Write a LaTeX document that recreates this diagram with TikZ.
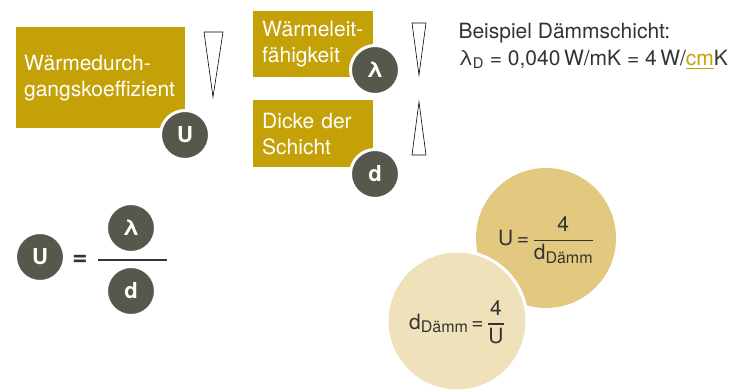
\documentclass[tikz,border=0pt]{standalone}
\usepackage{amsmath}
\usepackage{fontspec}
\setmainfont{TeX Gyre Heros}
\usepackage{tikz}
\usetikzlibrary{positioning}

\definecolor{gold}{HTML}{C4A106}
\definecolor{badgegray}{HTML}{58574B}
\definecolor{warmgold}{HTML}{E2C97F}
\definecolor{palegold}{HTML}{EFE1BA}
\definecolor{textgray}{HTML}{333333}

\newcommand{\barfrac}[2]{\genfrac{}{}{1.1pt}{0}{\text{#1}}{\text{#2}}}
\newcommand{\subdamm}{\raisebox{-0.3ex}{\fontsize{16}{16}\selectfont D\"amm}}

\begin{document}
\begin{tikzpicture}[x=1pt, y=-1pt,
  box/.style={fill=gold, text=white, anchor=north west, inner xsep=8pt,
    align=left, font=\fontsize{21}{26}\selectfont},
  badge/.style={circle, fill=badgegray, draw=white, line width=3pt,
    minimum size=49pt, inner sep=0pt, text=white, font=\fontsize{22}{24}\selectfont\bfseries},
  wedge/.style={draw=black, line width=0.6pt, fill=white},
  note/.style={anchor=base west, text=textgray, font=\fontsize{21}{26}\selectfont},
  disc/.style={circle, minimum size=140pt, inner sep=0pt},
  formula/.style={text=textgray, font=\fontsize{21}{26}\selectfont}]
\useasboundingbox (0,0) rectangle (756,389);

% Begriffe
\node[box, minimum width=169pt, minimum height=101pt, text width=153pt] (ubox) at (16,27) {W\"armedurch-\\gangskoeffizient};
\node[box, minimum width=120pt, minimum height=66pt, text width=102pt, inner xsep=9pt] (lbox) at (253,11) {W\"armeleit-\\f\"ahigkeit};
\node[box, minimum width=120pt, minimum height=67pt, text width=102pt, inner xsep=9pt] (dbox) at (253,100) {Dicke der\\Schicht};
\node[badge] (ubadge) at (185,135) {U};
\node[badge] (lbadge) at (375,70) {λ};
\node[badge] (dbadge) at (375,174) {d};

% Tendenz
\draw[wedge] (204,32) -- (223,32) -- (213,97) -- cycle;
\draw[wedge] (412,23) -- (426,23) -- (419,75) -- cycle;
\draw[wedge] (419,102) -- (426,155) -- (412,155) -- cycle;

% Beispiel
\node[note] (ex1) at (455,38) {Beispiel D\"ammschicht:};
\node[note] (ex2) at (455,65) {λ\textsubscript{D} = 0,040\,W/mK = 4\,W/\textcolor{gold}{\underline{\textcolor{textgray}{}cm}}K};

% Formel
\node[font=\fontsize{26}{26}\selectfont\bfseries, text=textgray] (eq) at (80,260) {=};
\node[badge] (uf) at (40,257) {U};
\node[badge] (lf) at (131,228) {λ};
\node[badge] (df) at (131,291) {d};
\coordinate (barl) at (98,260);
\coordinate (barr) at (167,260);
\draw[line width=1.2pt, textgray] (barl) -- (barr);

% Umrechnung
\node[disc, fill=warmgold] (c1) at (546,238) {};
\node[disc, fill=palegold, draw=white, line width=3pt] (c2) at (457,321) {};
\node[formula] (f1) at (546,240) {U\,=\,$\barfrac{4}{d\subdamm}$};
\node[formula] (f2) at (457,322) {d\subdamm\,=\,$\barfrac{4}{U}$};
\end{tikzpicture}
\end{document}
